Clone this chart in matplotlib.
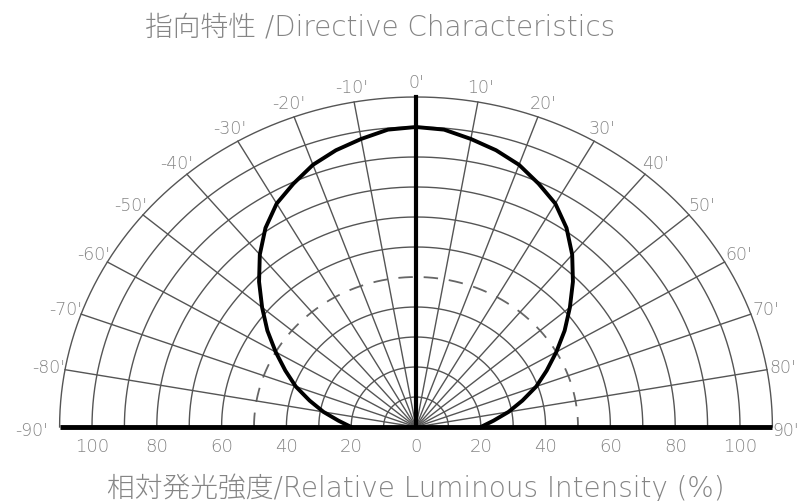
import numpy as np
import matplotlib.pyplot as plt

plt.rcParams['font.family'] = ['DejaVu Sans', 'Noto Sans CJK JP']

# radiation pattern (angle in degrees, relative intensity in %)
angles = [-90, -85, -80, -75, -70, -65, -60, -55, -50, -45, -40, -35, -30, -25, -20, -15, -10, -5,
          0, 5, 10, 15, 20, 25, 30, 35, 40, 45, 50, 55, 60, 65, 70, 75, 80, 85, 90]
intensity = [20, 24, 29, 34, 39.5, 44.5, 50, 56, 62, 68.5, 75, 81, 86, 89.5, 93, 95.5, 97.5, 99.5,
             100, 99.5, 97.5, 95.5, 93, 89.5, 86, 81, 75, 68.5, 62, 56, 50, 44.5, 39.5, 34, 29, 24, 20]

ring_values = [10, 20, 30, 40, 50, 60, 70, 80, 90, 100, 110]
spoke_angles = [-80, -70, -60, -50, -40, -30, -20, -10, 10, 20, 30, 40, 50, 60, 70, 80]
angle_labels = ["-90'", "-80'", "-70'", "-60'", "-50'", "-40'", "-30'", "-20'", "-10'", "0'",
                "10'", "20'", "30'", "40'", "50'", "60'", "70'", "80'", "90'"]
label_angles = [-90, -80, -70, -60, -50, -40, -30, -20, -10, 0, 10, 20, 30, 40, 50, 60, 70, 80, 90]
scale_ticks = [-100, -80, -60, -40, -20, 0, 20, 40, 60, 80, 100]

fig = plt.figure(figsize=(8.03, 5.02), dpi=100)
ax = fig.add_axes([0, 0, 1, 1])
# picture is a little squashed vertically: 3.24 px per % across, 3.0 px per % up
ax.set_xlim(-416 / 3.24, 387 / 3.24)
ax.set_ylim((428 - 502) / 3.0, 428 / 3.0)
ax.axis('off')

grid_col = '#555555'
text_col = '#858585'
t = np.radians(np.linspace(-90, 90, 361))

# rings
for r in ring_values:
    if r == 50:
        ax.plot(r * np.sin(t), r * np.cos(t), color='#666666', lw=1.3, ls=(0, (8, 6)))
    else:
        ax.plot(r * np.sin(t), r * np.cos(t), color=grid_col, lw=1.0)

# spokes
for a in spoke_angles:
    ar = np.radians(a)
    ax.plot([0, 110 * np.sin(ar)], [0, 110 * np.cos(ar)], color=grid_col, lw=1.0)

# thick centre line and baseline
ax.plot([0, 0], [0, 110], color='black', lw=3)
ax.plot([-110, 110], [0, 0], color='black', lw=3.5, solid_capstyle='butt')

# measured curve
th = np.radians(angles)
r = np.array(intensity)
ax.plot(r * np.sin(th), r * np.cos(th), color='black', lw=2.8, solid_joinstyle='round')

# angle labels round the outer ring
for a, lab in zip(label_angles, angle_labels):
    ar = np.radians(a)
    if a == -90:
        rr = 118.5
    elif a == 90:
        rr = 114
    else:
        rr = 115
    ax.text(rr * np.sin(ar), rr * np.cos(ar) - (1 if abs(a) == 90 else 0), lab,
            ha='center', va='center', fontsize=12.5, color=text_col, fontweight='light')

# intensity scale under the baseline
for v in scale_ticks:
    ax.text(v, -6.5, str(abs(v)), ha='center', va='center', fontsize=13,
            color=text_col, fontweight='light')

ax.text(-11, (428 - 28) / 3.0, "指向特性 /Directive Characteristics", ha='center', va='center',
        fontsize=20, color=text_col, fontweight='light')
ax.text(0, (428 - 488) / 3.0, "相対発光強度/Relative Luminous Intensity (%)", ha='center', va='center',
        fontsize=20, color=text_col, fontweight='light')

plt.savefig("out.png", dpi=100)
